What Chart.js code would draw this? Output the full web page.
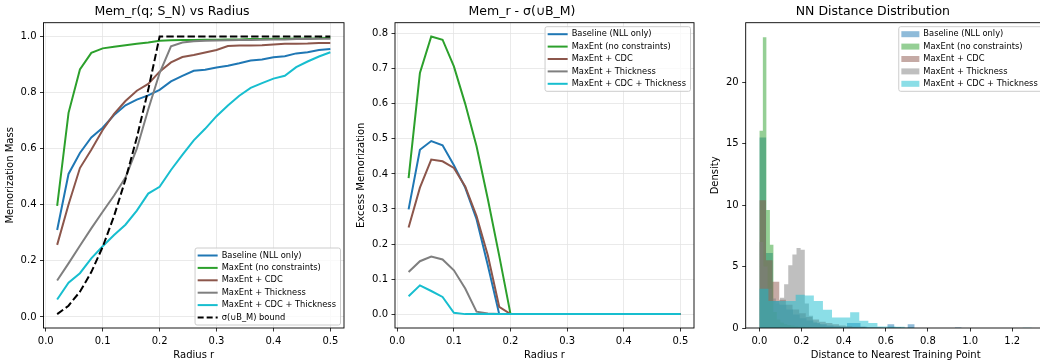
<!DOCTYPE html>
<html><head><meta charset="utf-8">
<script src="https://cdn.jsdelivr.net/npm/chart.js@4.4.1/dist/chart.umd.min.js"></script>
<style>
html,body{margin:0;padding:0;background:#fff;overflow:hidden;}
#wrap{position:relative;width:1040px;height:362px;overflow:hidden;background:#fff;}
canvas{position:absolute;top:0;}
</style></head><body>
<div id="wrap">
<canvas id="c1" width="350" height="362" style="left:0px"></canvas>
<canvas id="c2" width="350" height="362" style="left:350px"></canvas>
<canvas id="c3" width="360" height="362" style="left:700px"></canvas>
</div>
<script>
// ---------- DATA ----------
const radii = [0.02,0.04,0.06,0.08,0.10,0.12,0.14,0.16,0.18,0.20,0.22,0.24,0.26,0.28,0.30,0.32,0.34,0.36,0.38,0.40,0.42,0.44,0.46,0.48,0.50];
const seriesNames = ['Baseline (NLL only)','MaxEnt (no constraints)','MaxEnt + CDC','MaxEnt + Thickness','MaxEnt + CDC + Thickness'];
const boundName = 'σ(∪B_M) bound';

const memBaseline = [0.31,0.51,0.585,0.64,0.675,0.72,0.755,0.775,0.79,0.81,0.84,0.86,0.878,0.882,0.89,0.896,0.905,0.915,0.918,0.926,0.93,0.94,0.944,0.952,0.956];
const memMaxEnt   = [0.396,0.728,0.883,0.942,0.958,0.964,0.969,0.974,0.979,0.985,0.987,0.988,0.988,0.989,0.989,0.99,0.99,0.991,0.991,0.992,0.992,0.993,0.993,0.994,0.996];
const memCDC      = [0.257,0.401,0.531,0.596,0.667,0.724,0.77,0.807,0.831,0.875,0.908,0.927,0.934,0.943,0.952,0.966,0.968,0.968,0.969,0.972,0.974,0.974,0.975,0.977,0.977];
const memThick    = [0.13,0.191,0.254,0.316,0.375,0.433,0.497,0.6,0.74,0.87,0.965,0.979,0.983,0.985,0.986,0.987,0.988,0.988,0.989,0.99,0.99,0.991,0.991,0.992,0.992];
const memCDCThick = [0.062,0.122,0.156,0.209,0.252,0.292,0.329,0.379,0.44,0.464,0.524,0.578,0.63,0.671,0.716,0.754,0.789,0.817,0.834,0.85,0.86,0.891,0.911,0.929,0.944];
const boundSigma  = [0.01,0.04,0.09,0.16,0.25,0.36,0.49,0.64,0.81,1.0,1.0,1.0,1.0,1.0,1.0,1.0,1.0,1.0,1.0,1.0,1.0,1.0,1.0,1.0,1.0];

const exBaseline  = [0.299,0.469,0.494,0.482,0.425,0.361,0.271,0.139,0,0,0,0,0,0,0,0,0,0,0,0,0,0,0,0,0];
const exMaxEnt    = [0.388,0.688,0.792,0.783,0.707,0.6,0.479,0.328,0.167,0,0,0,0,0,0,0,0,0,0,0,0,0,0,0,0];
const exCDC       = [0.247,0.361,0.441,0.436,0.417,0.364,0.28,0.167,0.021,0,0,0,0,0,0,0,0,0,0,0,0,0,0,0,0];
const exThick     = [0.12,0.151,0.164,0.156,0.125,0.073,0.007,0.002,0,0,0,0,0,0,0,0,0,0,0,0,0,0,0,0,0];
const exCDCThick  = [0.051,0.082,0.066,0.049,0.004,0,0,0,0,0,0,0,0,0,0,0,0,0,0,0,0,0,0,0,0];

// histogram densities (30 bins each, starting at 0) and bin widths
const histBaselineW = 0.032;
const histBaseline  = [15.5,6.1,2.2,1.9,1.5,1.1,0.8,0.6,0.4,0.3,0.2,0.15,0.1,0.4,0.4,0.1,0.05,0.05,0,0.3,0.05,0,0.3,0,0,0,0,0,0,0.05];
const histMaxEntW   = 0.0167;
const histMaxEnt    = [16.05,23.65,9.6,6.77,1.3,0.7,0.45,0.3,0.25,0.2,0.15,0.1,0.1,0.08,0.06,0.05,0.05,0.04,0.03,0.03,0.02,0.02,0.02,0.02,0.01,0.01,0.01,0.01,0,0.02];
const histCDCW      = 0.0315;
const histCDC       = [10.4,5.5,3.76,2.3,1.9,1.5,1.2,0.9,0.7,0.5,0.4,0.3,0.2,0.15,0.1,0.1,0.05,0.05,0.03,0.02,0.02,0.02,0.01,0.01,0.01,0,0,0,0,0.01];
const histThickW    = 0.0196;
const histThick     = [7.0,5.0,3.2,2.4,2.0,2.47,3.55,5.1,5.97,6.5,6.37,2.0,1.0,0.5,0.3,0.2,0.1,0.1,0.05,0.05,0.03,0.03,0.02,0.02,0.01,0.01,0.01,0,0,0.02];
const histCDCThickW = 0.0431;
const histCDCThick  = [3.2,2.2,2.2,2.2,2.7,2.65,2.2,1.48,0.86,0.86,1.29,0.59,0.4,0.13,0.13,0.1,0.05,0,0,0,0,0,0,0,0,0,0,0,0,0.02];

const radiusTicks = [0.0,0.1,0.2,0.3,0.4,0.5];
const memTicks = [0.0,0.2,0.4,0.6,0.8,1.0];
const excessTicks = [0.0,0.1,0.2,0.3,0.4,0.5,0.6,0.7,0.8];
const distTicks = [0.0,0.2,0.4,0.6,0.8,1.0,1.2];
const densityTicks = [0,5,10,15,20];

// ---------- STYLE ----------
const colors = ['#1f77b4','#2ca02c','#8c564b','#7f7f7f','#17becf'];
const fills = ['rgba(31,119,180,0.5)','rgba(44,160,44,0.5)','rgba(140,86,75,0.5)','rgba(127,127,127,0.5)','rgba(23,190,207,0.5)'];
Chart.defaults.font.family = '"DejaVu Sans", sans-serif';
Chart.defaults.color = '#000';

const framePlugin = {
  id: 'frame',
  afterDatasetsDraw(chart) {
    const {ctx, chartArea: a} = chart;
    ctx.save();
    ctx.strokeStyle = '#000'; ctx.lineWidth = 0.9;
    ctx.strokeRect(a.left, a.top, a.right - a.left, a.bottom - a.top);
    ctx.restore();
  }
};
const legendPlugin = {
  id: 'mplLegend',
  afterDraw(chart, args, o) {
    if (!o || !o.items) return;
    const ctx = chart.ctx, a = chart.chartArea;
    ctx.save();
    ctx.font = '8.3px "DejaVu Sans", sans-serif';
    const tw = Math.max(...o.items.map(it => ctx.measureText(it.label).width));
    const w = 2.6 + o.handle + 4 + tw + 4.5;
    const h = 15 + (o.items.length - 1) * 12.4;
    const x = a.right - 3.5 - w;
    const y = o.loc === 'lower right' ? a.bottom - 3 - h : a.top + 4;
    ctx.beginPath();
    if (ctx.roundRect) ctx.roundRect(x, y, w, h, 2); else ctx.rect(x, y, w, h);
    ctx.fillStyle = 'rgba(255,255,255,0.8)'; ctx.fill();
    ctx.strokeStyle = '#cccccc'; ctx.lineWidth = 1; ctx.stroke();
    o.items.forEach((it, i) => {
      const cy = y + 7.5 + i * 12.4;
      const hx = x + 2.6;
      if (it.kind === 'patch') {
        ctx.fillStyle = it.color; ctx.fillRect(hx, cy - 3, o.handle, 6);
      } else {
        ctx.strokeStyle = it.color; ctx.lineWidth = 2; ctx.setLineDash(it.dash || []);
        ctx.beginPath(); ctx.moveTo(hx, cy); ctx.lineTo(hx + o.handle, cy); ctx.stroke();
        ctx.setLineDash([]);
      }
      ctx.fillStyle = '#000'; ctx.textBaseline = 'middle'; ctx.textAlign = 'left';
      ctx.fillText(it.label, hx + o.handle + 4, cy);
    });
    ctx.restore();
  }
};

function fixedTicks(arr) { return s => { s.ticks = arr.map(v => ({value: v})); }; }
function axisCfg(o) {
  return {
    type: 'linear', min: o.min, max: o.max,
    afterBuildTicks: fixedTicks(o.ticks),
    afterFit: s => { if (o.width !== undefined) s.width = o.width; if (o.height !== undefined) s.height = o.height; },
    ticks: {font: {size: 10}, color: '#000', padding: 3.5, maxRotation: 0, autoSkip: false, callback: o.fmt},
    grid: {display: true, drawOnChartArea: o.grid, color: '#e5e5e5', lineWidth: 0.8, tickLength: 3.5, tickColor: '#000', tickWidth: 0.8, drawTicks: true},
    border: {display: false},
    title: {display: true, text: o.title, font: {size: 10}, color: '#000', padding: o.tpad}
  };
}
function titleCfg(t) {
  return {display: true, text: t, font: {size: 12.5, weight: 'normal'}, color: '#000', padding: {top: 4, bottom: 3.7}};
}
function lineDs(label, data, color, i, n, dash) {
  return {label, data: data.map((v, k) => ({x: radii[k], y: v})), borderColor: color, borderWidth: 2,
    borderDash: dash || [], pointRadius: 0, fill: false, tension: 0, order: n - i};
}
function histDs(label, heights, w, color, i, n) {
  const pts = [{x: 0, y: 0}];
  heights.forEach((h, k) => pts.push({x: (k + 1) * w, y: h}));
  pts.push({x: heights.length * w, y: 0});
  return {label, data: pts, stepped: 'after', backgroundColor: color, borderColor: 'transparent', borderWidth: 0,
    pointRadius: 0, fill: 'origin', order: n - i};
}
const fmt1 = v => v.toFixed(1);
const fmt0 = v => v.toFixed(0);
const common = {responsive: false, animation: false, devicePixelRatio: 1, events: []};

// Chart 1
const mems = [memBaseline, memMaxEnt, memCDC, memThick, memCDCThick];
const ds1 = mems.map((m, i) => lineDs(seriesNames[i], m, colors[i], i, 6));
ds1.push(lineDs(boundName, boundSigma, '#000', 5, 6, [7.4, 3.2]));
new Chart(document.getElementById('c1'), {
  type: 'line',
  data: {datasets: ds1},
  options: Object.assign({}, common, {
    layout: {padding: {left: 0, right: 6, top: 0, bottom: 0}},
    scales: {
      x: axisCfg({min: -0.004, max: 0.524, ticks: radiusTicks, fmt: fmt1, grid: true, height: 34, title: 'Radius r', tpad: {top: 0, bottom: 1}}),
      y: axisCfg({min: -0.0395, max: 1.0495, ticks: memTicks, fmt: fmt1, grid: true, width: 43.5, title: 'Memorization Mass', tpad: {top: 4.5, bottom: 0}})
    },
    plugins: {
      legend: {display: false}, tooltip: {enabled: false},
      title: titleCfg('Mem_r(q; S_N) vs Radius'),
      mplLegend: {loc: 'lower right', handle: 20, items: ds1.map((d, i) => ({label: d.label, color: i < 5 ? colors[i] : '#000', dash: i < 5 ? [] : [6, 3]}))}
    }
  }),
  plugins: [framePlugin, legendPlugin]
});

// Chart 2
const exs = [exBaseline, exMaxEnt, exCDC, exThick, exCDCThick];
const ds2 = exs.map((m, i) => lineDs(seriesNames[i], m, colors[i], i, 5));
new Chart(document.getElementById('c2'), {
  type: 'line',
  data: {datasets: ds2},
  options: Object.assign({}, common, {
    layout: {padding: {left: 0, right: 6, top: 0, bottom: 0}},
    scales: {
      x: axisCfg({min: -0.004, max: 0.524, ticks: radiusTicks, fmt: fmt1, grid: true, height: 34, title: 'Radius r', tpad: {top: 0, bottom: 1}}),
      y: axisCfg({min: -0.0396, max: 0.8316, ticks: excessTicks, fmt: fmt1, grid: true, width: 45, title: 'Excess Memorization', tpad: {top: 5, bottom: 0}})
    },
    plugins: {
      legend: {display: false}, tooltip: {enabled: false},
      title: titleCfg('Mem_r - σ(∪B_M)'),
      mplLegend: {loc: 'upper right', handle: 20, items: ds2.map((d, i) => ({label: d.label, color: colors[i]}))}
    }
  }),
  plugins: [framePlugin, legendPlugin]
});

// Chart 3
const hists = [[histBaseline, histBaselineW], [histMaxEnt, histMaxEntW], [histCDC, histCDCW], [histThick, histThickW], [histCDCThick, histCDCThickW]];
const ds3 = hists.map((h, i) => histDs(seriesNames[i], h[0], h[1], fills[i], i, 5));
new Chart(document.getElementById('c3'), {
  type: 'line',
  data: {datasets: ds3},
  options: Object.assign({}, common, {
    layout: {padding: {left: 0, right: 14.3, top: 0, bottom: 0}},
    scales: {
      x: axisCfg({min: -0.0647, max: 1.3587, ticks: distTicks, fmt: fmt1, grid: false, height: 34, title: 'Distance to Nearest Training Point', tpad: {top: 0, bottom: 1}}),
      y: axisCfg({min: 0, max: 24.83, ticks: densityTicks, fmt: fmt0, grid: false, width: 45.7, title: 'Density', tpad: {top: 9.3, bottom: 0}})
    },
    plugins: {
      legend: {display: false}, tooltip: {enabled: false},
      title: titleCfg('NN Distance Distribution'),
      mplLegend: {loc: 'upper right', handle: 18, items: ds3.map((d, i) => ({label: d.label, color: fills[i], kind: 'patch'}))}
    }
  }),
  plugins: [framePlugin, legendPlugin]
});
</script>
</body></html>
